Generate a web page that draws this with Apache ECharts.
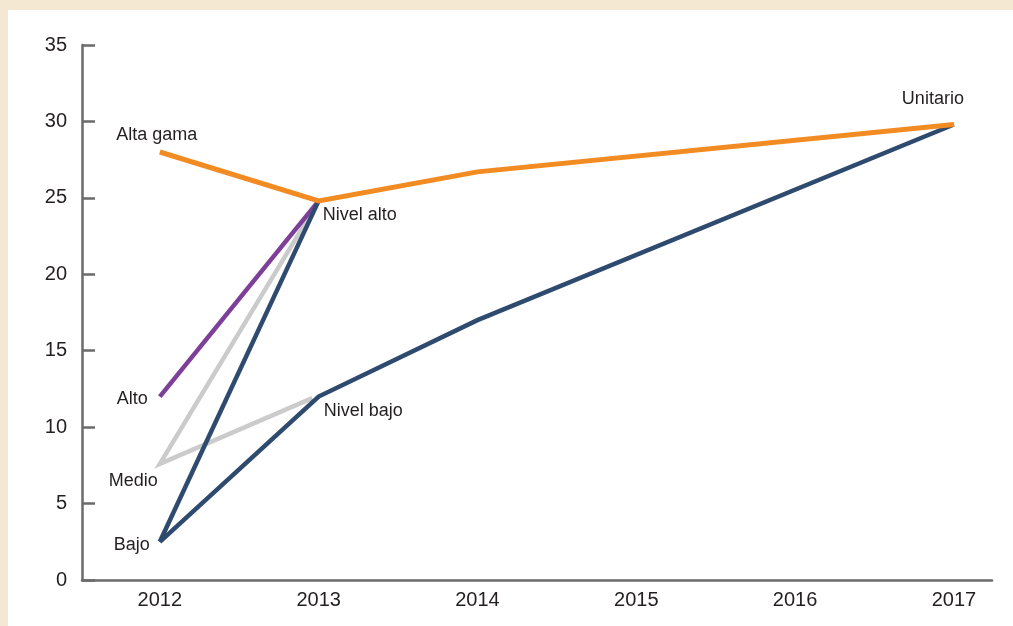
<!DOCTYPE html>
<html>
<head>
<meta charset="utf-8">
<script src="https://cdn.jsdelivr.net/npm/echarts@6/dist/echarts.min.js"></script>
<style>
  html, body { margin: 0; padding: 0; background: #f4e8d2; }
  #chart { position: absolute; left: 8px; top: 10px; width: 1005px; height: 616px; background: #fff; }
</style>
</head>
<body>
<div id="chart"></div>
<script>
// años del eje x
const years = [2012, 2013, 2014, 2015, 2016, 2017]
const yTicks = [0, 5, 10, 15, 20, 25, 30, 35]

// Alta gama -> Nivel alto -> Unitario
const altaX = [2012, 2013, 2014, 2017]
const altaY = [28, 24.8, 26.7, 29.8]
// Bajo -> Nivel bajo -> Unitario
const bajoX = [2012, 2013, 2014, 2017]
const bajoY = [2.5, 12, 17, 29.8]
// Bajo -> Nivel alto
const bajoAltoX = [2012, 2013]
const bajoAltoY = [2.5, 24.8]
// Nivel alto <- Medio -> Nivel bajo
const medioX = [2013, 2012, 2012.96]
const medioY = [24.8, 7.6, 11.9]
// Alto -> Nivel alto
const altoX = [2012, 2013]
const altoY = [12, 24.8]

// etiquetas y el punto al que se refieren
const labelNames = ['Alta gama', 'Nivel alto', 'Unitario', 'Alto', 'Medio', 'Bajo', 'Nivel bajo']
const labelX = [2012, 2013, 2017, 2012, 2012, 2012, 2013]
const labelY = [28, 24.8, 29.8, 12, 7.6, 2.5, 12]

const pairs = (xs, ys) => xs.map((x, i) => [x, ys[i]])

// estilo de cada etiqueta (posición relativa al punto)
const labelStyle = {
  'Alta gama': { position: [-3, -17], align: 'center' },
  'Nivel alto': { position: [4, 14], align: 'left' },
  'Unitario': { position: [-21, -25], align: 'center' },
  'Alto': { position: [-12, 2], align: 'right' },
  'Medio': { position: [-2, 17], align: 'right' },
  'Bajo': { position: [-10, 3], align: 'right' },
  'Nivel bajo': { position: [5, 14], align: 'left' },
}

const line = (data, color, width) => ({
  type: 'line',
  data: data,
  symbol: 'none',
  silent: true,
  lineStyle: { color: color, width: width, cap: 'butt', join: 'miter' },
  z: 2,
})

const option = {
  animation: false,
  grid: { left: 74, right: 21, top: 35, bottom: 46 },
  xAxis: {
    type: 'value',
    min: 2011.51,
    max: 2017.24,
    splitLine: { show: false },
    axisLine: { show: true, lineStyle: { color: '#6b6b6b', width: 2.5 } },
    axisTick: { show: false },
    axisLabel: {
      customValues: years,
      formatter: (v) => String(v),
      color: '#231f20',
      fontSize: 20,
      fontFamily: 'Liberation Sans',
      margin: 10,
    },
  },
  yAxis: {
    type: 'value',
    min: 0,
    max: 35,
    interval: 5,
    splitLine: { show: false },
    axisLine: { show: true, lineStyle: { color: '#6b6b6b', width: 2.5 } },
    axisTick: { show: true, inside: true, length: 13, lineStyle: { color: '#6b6b6b', width: 2.5 } },
    axisLabel: {
      customValues: yTicks,
      color: '#231f20',
      fontSize: 20,
      fontFamily: 'Liberation Sans',
      margin: 15,
    },
  },
  series: [
    line(pairs(medioX, medioY), '#cbcbcb', 4.5),
    line(pairs(altoX, altoY), '#7d3f98', 4.5),
    line(pairs(bajoAltoX, bajoAltoY), '#2f4a6f', 4.5),
    line(pairs(bajoX, bajoY), '#2f4a6f', 4.5),
    line(pairs(altaX, altaY), '#f28b22', 5),
    {
      type: 'scatter',
      symbolSize: 0,
      silent: true,
      z: 3,
      itemStyle: { opacity: 1 },
      data: labelNames.map((n, i) => ({
        value: [labelX[i], labelY[i]],
        label: {
          show: true,
          formatter: n,
          position: labelStyle[n].position,
          align: labelStyle[n].align,
          verticalAlign: 'middle',
          color: '#231f20',
          opacity: 1,
          fontSize: 18,
          fontFamily: 'Liberation Sans',
        },
      })),
    },
  ],
}

const chart = echarts.init(document.getElementById('chart'))
chart.setOption(option)
window.onresize = function () {
  chart.resize()
}
</script>
</body>
</html>
